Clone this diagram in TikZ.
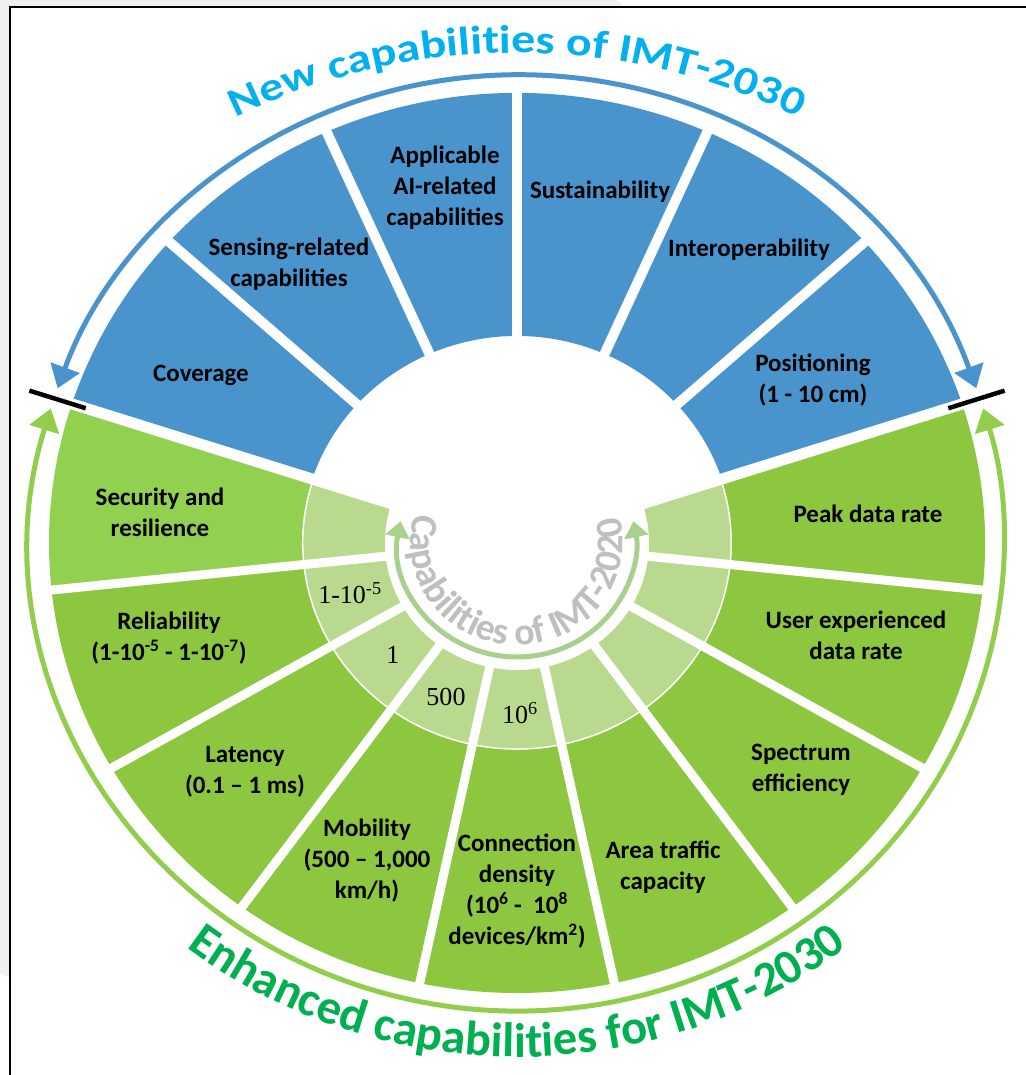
\documentclass[tikz,border=0pt]{standalone}
\usepackage{fontspec}
\setmainfont{Carlito}
\newfontfamily\numfont{Liberation Serif}
\newfontfamily\widefont[FakeStretch=1.2]{Carlito}
\usetikzlibrary{arrows.meta,decorations.text,calc}

\definecolor{segblue}{RGB}{74,148,206}
\definecolor{seggreen}{RGB}{141,198,63}
\definecolor{secgreen}{RGB}{146,208,80}
\definecolor{ringgreen}{RGB}{185,218,142}
\definecolor{arrowgreen}{RGB}{146,206,76}
\definecolor{innerarrow}{RGB}{169,209,142}
\definecolor{titleblue}{RGB}{0,176,240}
\definecolor{titlegreen}{RGB}{0,176,80}
\definecolor{titlegray}{RGB}{191,191,191}
\definecolor{haze}{RGB}{240,240,240}

% type styles for the three curved headings
\newcommand\newcapstyle{\widefont\bfseries\fontsize{40}{48}\selectfont\color{titleblue}}
\newcommand\enhcapstyle{\bfseries\fontsize{48.5}{56}\selectfont\color{titlegreen}}
\newcommand\oldcapstyle{\bfseries\fontsize{38}{44}\selectfont\color{titlegray}}

\begin{document}
\begin{tikzpicture}[x=1.04pt, y=1pt,
  seglabel/.style={font=\fontsize{25}{31}\selectfont\bfseries, align=center, inner sep=0pt},
  numlabel/.style={font=\numfont\fontsize{26}{30}\selectfont, inner sep=0pt},
  divider/.style={draw=white, line width=#1},
  ringarrow/.style={line width=5pt, {Triangle[width=30pt,length=22pt]}-{Triangle[width=30pt,length=22pt]}},
  innerring/.style={line width=5pt, {Triangle[width=24pt,length=16pt]}-{Triangle[width=24pt,length=16pt]}},
  boundtick/.style={draw=black, line width=4.5pt},
]
\useasboundingbox (-517pt,-532pt) rectangle (508pt,543pt);

% faint backdrop and frame
\fill[haze] (-267pt,93pt) circle[radius=580pt];
\fill[white] (-507pt,536pt) rectangle (530pt,-545pt);
\draw[line width=1.8pt] (530pt,536pt) -- (-507pt,536pt) -- (-507pt,-545pt);

% upper half: new capabilities
\fill[segblue] (18:207) arc[start angle=18, end angle=162, radius=207]
  -- (162:450) arc[start angle=162, end angle=18, radius=450] -- cycle;

% lower half: enhanced capabilities
\fill[secgreen] (162:206) arc[start angle=162, end angle=186, radius=206]
  -- (186:450) arc[start angle=186, end angle=162, radius=450] -- cycle;
\fill[seggreen] (186:206) arc[start angle=186, end angle=378, radius=206]
  -- (378:450) arc[start angle=378, end angle=186, radius=450] -- cycle;
\fill[ringgreen] (162:127) arc[start angle=162, end angle=378, radius=127]
  -- (378:206) arc[start angle=378, end angle=162, radius=206] -- cycle;
\draw[white, line width=1.5pt] (162:206) arc[start angle=162, end angle=378, radius=206];

% white gaps between segments
\foreach \a in {42,66,90,114,138}
  \draw[divider=10pt] (\a:150) -- (\a:456);
\foreach \a in {186,210,234,258,282,306,330,354}
  \draw[divider=9pt] (\a:118) -- (\a:456);
\foreach \a in {18,162}
  \draw[divider=11pt] (\a:118) -- (\a:456);

% ring arrows
\draw[segblue, ringarrow] (19.3:468) arc[start angle=19.3, end angle=160.7, radius=468];
\draw[arrowgreen, ringarrow] (163.3:468) arc[start angle=163.3, end angle=376.7, radius=468];
\draw[innerarrow, innerring] (169:114) arc[start angle=169, end angle=371, radius=114];

% boundary ticks
\draw[boundtick] (162:436) -- (162:493);
\draw[boundtick] (18:436) -- (18:493);

% curved headings
\coordinate (topstart) at ($(0,-110)+(140:600)$);
\path[decorate, decoration={text along path, text align=center,
    text={|\newcapstyle|New capabilities of IMT-2030}}]
  (topstart) arc[start angle=140, end angle=40, radius=600];
\path[decorate, decoration={text along path, text align=center,
    text={|\enhcapstyle|Enhanced capabilities for IMT-2030}}]
  (200:514) arc[start angle=200, end angle=340, radius=514];
\path[decorate, decoration={text along path, text align=center,
    text={|\oldcapstyle|Capabilities of IMT-2020}}]
  (148:102) arc[start angle=148, end angle=390, radius=102];

% labels of the new capabilities
\node[seglabel] (coverage) at (-316pt,168pt) {Coverage};
\node[seglabel] (sensing) at (-228pt,279pt) {Sensing-related\\capabilities};
\node[seglabel] (ai) at (-72pt,355pt) {Applicable\\AI-related\\capabilities};
\node[seglabel] (sustain) at (83pt,351pt) {Sustainability};
\node[seglabel] (interop) at (232pt,293pt) {Interoperability};
\node[seglabel] (position) at (296pt,163pt) {Positioning\\(1 - 10 cm)};

% labels of the enhanced capabilities
\node[seglabel] (security) at (-357pt,31pt) {Security and\\resilience};
\node[seglabel] (reliab) at (-348pt,-95pt) {Reliability\\(1-10\textsuperscript{-5} - 1-10\textsuperscript{-7})};
\node[seglabel] (latency) at (-272pt,-229pt) {Latency\\(0.1 – 1 ms)};
\node[seglabel] (mobility) at (-150pt,-318pt) {Mobility\\(500 – 1,000\\km/h)};
\node[seglabel] (density) at (0pt,-348pt) {Connection\\density\\(10\textsuperscript{6} -\ \ 10\textsuperscript{8}\\devices/km\textsuperscript{2})};
\node[seglabel] (traffic) at (146pt,-324pt) {Area traffic\\capacity};
\node[seglabel] (spectrum) at (284pt,-227pt) {Spectrum\\efficiency};
\node[seglabel] (userrate) at (339pt,-92pt) {User experienced\\data rate};
\node[seglabel] (peak) at (351pt,29pt) {Peak data rate};

% IMT-2020 values
\node[numlabel] (v-reliab) at (-167pt,-50pt) {1-10\textsuperscript{-5}};
\node[numlabel] (v-latency) at (-124pt,-112pt) {1};
\node[numlabel] (v-mobility) at (-71pt,-154pt) {500};
\node[numlabel] (v-density) at (3pt,-170pt) {10\textsuperscript{6}};
\end{tikzpicture}
\end{document}
